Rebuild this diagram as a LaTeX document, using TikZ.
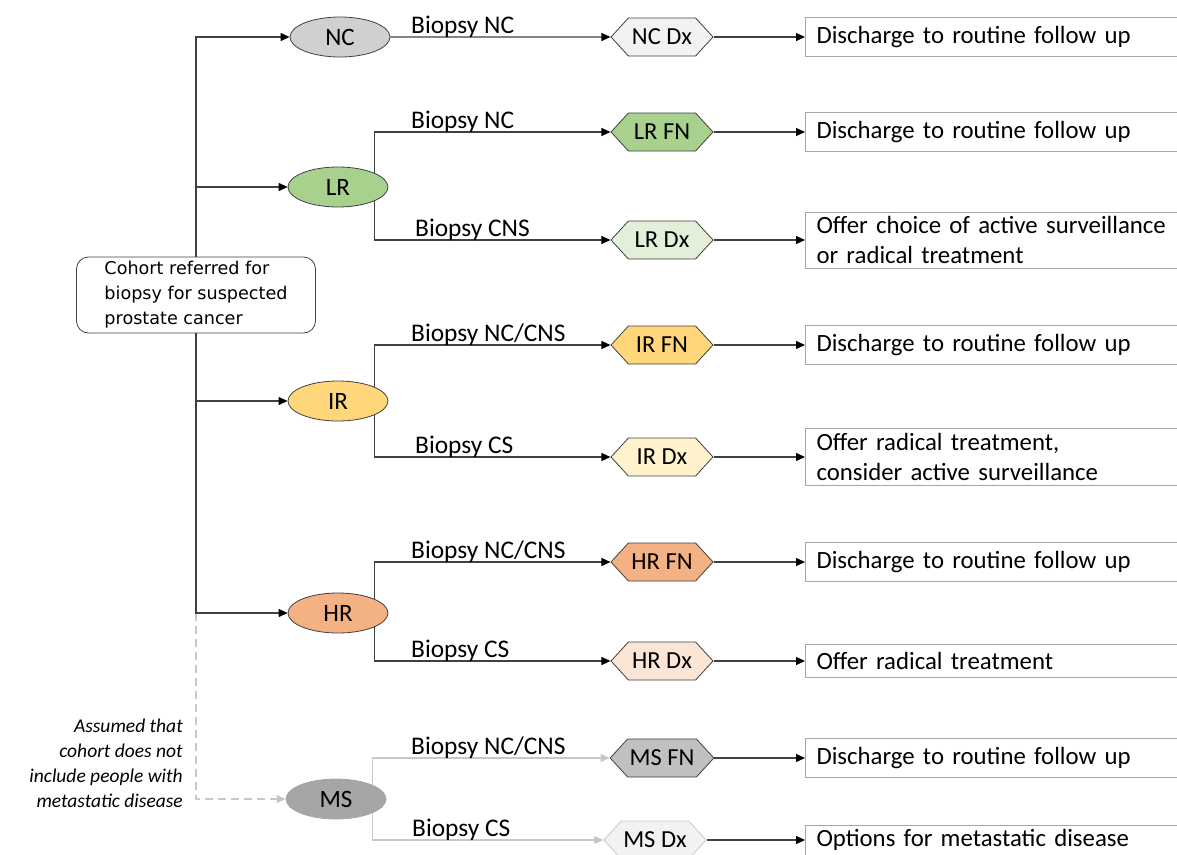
\documentclass[tikz,border=0pt]{standalone}
\usepackage{fontspec}
\setmainfont{Carlito}
\newfontfamily\cohortfont{DejaVu Sans}
\usetikzlibrary{arrows.meta,shapes.geometric,shapes.symbols}

\definecolor{ncfill}{HTML}{D0D0D0}
\definecolor{ncdxfill}{HTML}{F2F2F2}
\definecolor{lrfill}{HTML}{A9D18E}
\definecolor{lrdxfill}{HTML}{E2F0D9}
\definecolor{irfill}{HTML}{FFD77A}
\definecolor{irdxfill}{HTML}{FFF2CC}
\definecolor{hrfill}{HTML}{F4B183}
\definecolor{hrdxfill}{HTML}{FBE5D6}
\definecolor{msfill}{HTML}{A6A6A6}
\definecolor{msfnfill}{HTML}{C0C0C0}
\definecolor{edgegrey}{HTML}{404040}
\definecolor{boxgrey}{HTML}{A6A6A6}
\definecolor{paleline}{HTML}{C8C8C8}

\tikzset{
  risk/.style={ellipse, draw=edgegrey, fill=#1, line width=0.8pt,
    minimum width=100pt, minimum height=40pt, inner sep=0pt,
    font=\fontsize{25}{28}\selectfont},
  hexa/.style={signal, signal to=west and east, signal pointer angle=95,
    draw=edgegrey, fill=#1, line width=0.8pt,
    minimum width=102pt, minimum height=38pt, inner xsep=2pt, inner ysep=0pt,
    font=\fontsize{24.5}{28}\selectfont},
  outcome/.style={draw=boxgrey, fill=white, line width=1pt, anchor=west,
    minimum width=420pt, minimum height=39pt, text width=398pt,
    inner xsep=11pt, align=left, font=\fontsize{24.8}{30.5}\selectfont},
  cohort/.style={draw=edgegrey, rounded corners=12pt, line width=0.8pt,
    minimum width=239pt, minimum height=76pt, align=left,
    font=\cohortfont\fontsize{17.6}{25}\selectfont},
  lbl/.style={anchor=base west, inner sep=0pt, font=\fontsize{25.4}{28}\selectfont},
  note/.style={anchor=east, align=right, inner sep=0pt,
    font=\itshape\fontsize{19.5}{25}\selectfont},
  link/.style={draw=edgegrey, line width=1.1pt,
    -{Triangle[length=9pt,width=8pt,color=black]}},
  palelink/.style={draw=paleline, line width=1.1pt,
    -{Triangle[length=9pt,width=8pt,color=paleline]}},
}

\begin{document}
\begin{tikzpicture}[x=1pt,y=1pt,yscale=-1,xscale=1]
\useasboundingbox (0,0) rectangle (1177,854);
\clip (0,0) rectangle (1177,854);

%Cohort box
\node[cohort] (cohort) at (196,295) {Cohort referred for\\biopsy for suspected\\prostate cancer};
%Note on metastatic disease
\node[note] (msnote) at (183,763) {Assumed that\\cohort does not\\include people with\\metastatic disease};

%Risk groups
\node[risk=ncfill] (nc) at (340,37) {NC};
\node[risk=lrfill] (lr) at (338,187) {LR};
\node[risk=irfill] (ir) at (338,401) {IR};
\node[risk=hrfill] (hr) at (338,613) {HR};
\node[risk=msfill,draw=boxgrey] (ms) at (336,799) {MS};

%Biopsy results
\node[hexa=ncdxfill] (ncdx) at (662,37) {NC Dx};
\node[hexa=lrfill] (lrfn) at (662,132) {LR FN};
\node[hexa=lrdxfill] (lrdx) at (662,240) {LR Dx};
\node[hexa=irfill] (irfn) at (662,345) {IR FN};
\node[hexa=irdxfill] (irdx) at (662,457) {IR Dx};
\node[hexa=hrfill] (hrfn) at (662,562) {HR FN};
\node[hexa=hrdxfill] (hrdx) at (662,661) {HR Dx};
\node[hexa=msfnfill] (msfn) at (662,758) {MS FN};
\node[hexa=ncdxfill,draw=paleline] (msdx) at (655,840) {MS Dx};

%Outcomes
\node[outcome] (ncout) at (805,37) {Discharge to routine follow up};
\node[outcome] (lrfnout) at (805,132) {Discharge to routine follow up};
\node[outcome,minimum height=56pt] (lrdxout) at (805,240) {Offer choice of active surveillance\\or radical treatment};
\node[outcome] (irfnout) at (805,345) {Discharge to routine follow up};
\node[outcome,minimum height=57pt] (irdxout) at (805,457) {Offer radical treatment,\\consider active surveillance};
\node[outcome] (hrfnout) at (805,562) {Discharge to routine follow up};
\node[outcome,minimum height=33pt] (hrdxout) at (805,661) {Offer radical treatment};
\node[outcome] (msfnout) at (805,758) {Discharge to routine follow up};
\node[outcome,minimum height=30pt] (msdxout) at (805,840) {Options for metastatic disease};

%Trunk to risk groups
\coordinate (split) at (cohort.south |- hr);
\draw[palelink,dash pattern=on 8pt off 5pt] (split) |- (ms);
\draw[link] (cohort.north) |- (nc);
\draw[link] (cohort.north) |- (lr);
\draw[link] (cohort.south) |- (ir);
\draw[link] (cohort.south) |- (hr);

%Risk groups to biopsy results
\draw[link] (nc) -- (ncdx);
\draw[link] (lr.21) |- (lrfn);
\draw[link] (lr.-21) |- (lrdx);
\draw[link] (ir.21) |- (irfn);
\draw[link] (ir.-21) |- (irdx);
\draw[link] (hr.21) |- (hrfn);
\draw[link] (hr.-21) |- (hrdx);
\draw[palelink] (ms.21) |- (msfn);
\draw[palelink] (ms.-21) |- (msdx);

%Biopsy labels
\node[lbl] (lbncnc) at (411,33) {Biopsy NC};
\node[lbl] (lblrnc) at (411,128) {Biopsy NC};
\node[lbl] (lblrcns) at (415,236) {Biopsy CNS};
\node[lbl] (lbirnc) at (411,341) {Biopsy NC/CNS};
\node[lbl] (lbircs) at (415,453) {Biopsy CS};
\node[lbl] (lbhrnc) at (411,558) {Biopsy NC/CNS};
\node[lbl] (lbhrcs) at (411,657) {Biopsy CS};
\node[lbl] (lbmsnc) at (411,754) {Biopsy NC/CNS};
\node[lbl] (lbmscs) at (412,836) {Biopsy CS};

%Biopsy results to outcomes
\foreach \res/\out in {ncdx/ncout,lrfn/lrfnout,lrdx/lrdxout,irfn/irfnout,irdx/irdxout,hrfn/hrfnout,hrdx/hrdxout,msfn/msfnout,msdx/msdxout}
  \draw[link] (\res.east) -- (\res.east -| \out.west);

\end{tikzpicture}
\end{document}
